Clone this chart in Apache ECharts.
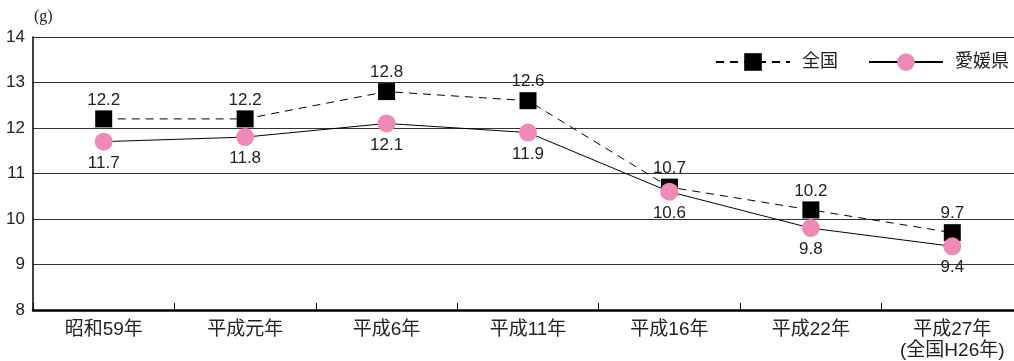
<!DOCTYPE html>
<html>
<head>
<meta charset="utf-8">
<script src="https://cdn.jsdelivr.net/npm/echarts@6/dist/echarts.min.js"></script>
<style>
  html, body { margin: 0; padding: 0; background: #fff; }
  #chart { width: 1014px; height: 361px; }
</style>
</head>
<body>
<div id="chart"></div>
<script>
// Survey years (x axis)
const categories = ['昭和59年', '平成元年', '平成6年', '平成11年', '平成16年', '平成22年', '平成27年\n(全国H26年)'];
// Daily intake in grams
const nationalValues = [12.2, 12.2, 12.8, 12.6, 10.7, 10.2, 9.7];
const ehimeValues = [11.7, 11.8, 12.1, 11.9, 10.6, 9.8, 9.4];
const seriesNames = ['全国', '愛媛県'];
const yTicks = { min: 8, max: 14, interval: 1 };

const font = '"Liberation Sans", "Noto Sans CJK JP", sans-serif';
const chart = echarts.init(document.getElementById('chart'));

chart.setOption({
  animation: false,
  textStyle: { fontFamily: font },
  grid: { left: 33, top: 37, width: 990, height: 273, containLabel: false, outerBoundsMode: 'none' },
  graphic: [{
    type: 'text', left: 34, top: 9,
    style: { text: '(g)', fontSize: 16, fill: '#222', fontFamily: '"Liberation Serif", serif' }
  }],
  legend: {
    left: 710, top: 48,
    itemWidth: 74, itemHeight: 22, itemGap: 30,
    textStyle: { fontSize: 18, color: '#222', padding: [0, 0, 0, 7] },
    data: seriesNames
  },
  xAxis: {
    type: 'category',
    data: categories,
    boundaryGap: true,
    axisLine: { lineStyle: { color: '#000', width: 2.5 } },
    axisTick: { show: true, inside: true, length: 7, lineStyle: { color: '#000', width: 1 } },
    axisLabel: { fontSize: 19, color: '#222', margin: 9, lineHeight: 21, interval: 0 }
  },
  yAxis: {
    type: 'value',
    min: yTicks.min, max: yTicks.max, interval: yTicks.interval,
    axisLine: { show: true, lineStyle: { color: '#000', width: 1.5 } },
    axisTick: { show: false },
    axisLabel: { fontSize: 17, color: '#222', margin: 8 },
    splitLine: { lineStyle: { color: '#333', width: 1.2 } }
  },
  series: [
    {
      name: seriesNames[0],
      type: 'line',
      data: nationalValues,
      symbol: 'rect',
      symbolSize: 17,
      itemStyle: { color: '#000' },
      lineStyle: { color: '#000', width: 1, type: [8, 6] },
      label: { show: true, position: 'top', distance: 2, fontSize: 17, color: '#222', formatter: p => p.value.toFixed(1) },
      z: 2
    },
    {
      name: seriesNames[1],
      type: 'line',
      data: ehimeValues,
      symbol: 'circle',
      symbolSize: 18,
      itemStyle: { color: '#ee89b8' },
      lineStyle: { color: '#000', width: 1 },
      label: { show: true, position: 'bottom', distance: 4, fontSize: 17, color: '#222', formatter: p => p.value.toFixed(1) },
      z: 3
    }
  ]
});
</script>
</body>
</html>
